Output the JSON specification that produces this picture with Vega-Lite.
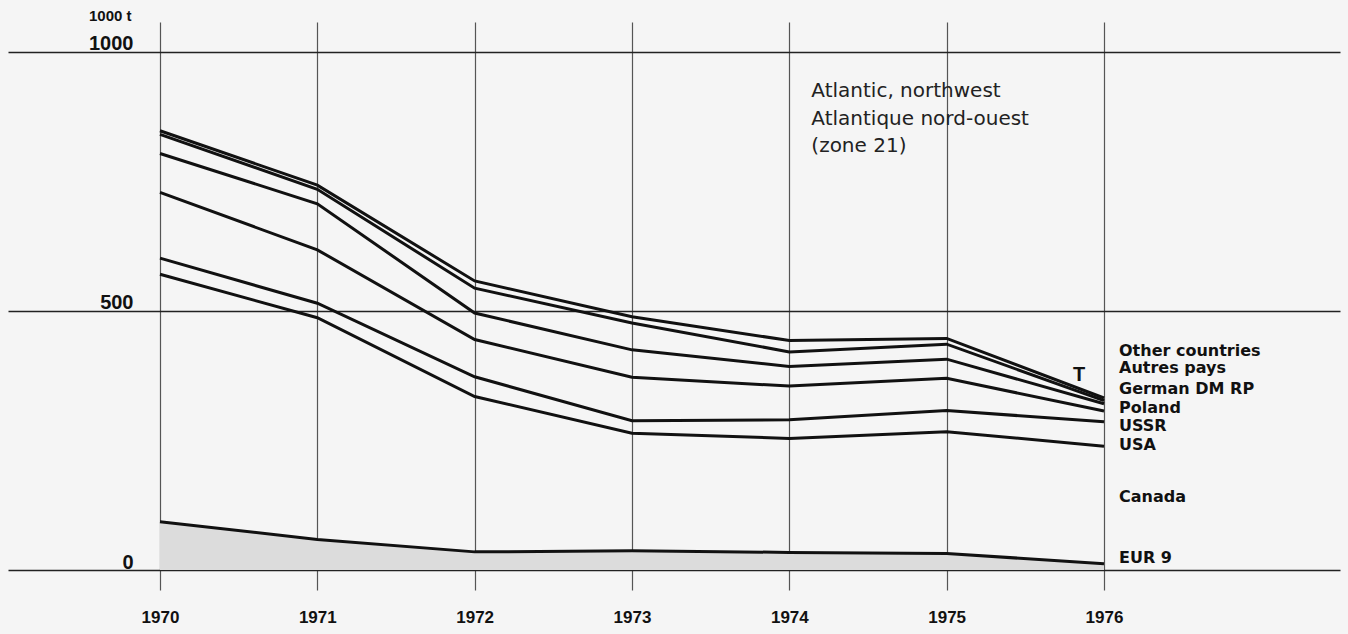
{
  "$schema": "https://vega.github.io/schema/vega-lite/v6.json",
  "width": 1332,
  "height": 568,
  "autosize": {"type": "none"},
  "padding": {"left": 8, "top": 22, "right": 8, "bottom": 44},
  "background": "#f5f5f5",
  "config": {"view": {"stroke": null}},
  "resolve": {"axis": {"x": "independent", "y": "independent"}},
  "datasets": {
    "catch": [
      {"year": 1970, "country": "EUR 9", "value": 93},
      {"year": 1971, "country": "EUR 9", "value": 59},
      {"year": 1972, "country": "EUR 9", "value": 35},
      {"year": 1973, "country": "EUR 9", "value": 37},
      {"year": 1974, "country": "EUR 9", "value": 34},
      {"year": 1975, "country": "EUR 9", "value": 32},
      {"year": 1976, "country": "EUR 9", "value": 12},
      {"year": 1970, "country": "Canada", "value": 478},
      {"year": 1971, "country": "Canada", "value": 428},
      {"year": 1972, "country": "Canada", "value": 300},
      {"year": 1973, "country": "Canada", "value": 227},
      {"year": 1974, "country": "Canada", "value": 220},
      {"year": 1975, "country": "Canada", "value": 235},
      {"year": 1976, "country": "Canada", "value": 227},
      {"year": 1970, "country": "USA", "value": 31},
      {"year": 1971, "country": "USA", "value": 28},
      {"year": 1972, "country": "USA", "value": 38},
      {"year": 1973, "country": "USA", "value": 24},
      {"year": 1974, "country": "USA", "value": 36},
      {"year": 1975, "country": "USA", "value": 41},
      {"year": 1976, "country": "USA", "value": 47},
      {"year": 1970, "country": "USSR", "value": 127},
      {"year": 1971, "country": "USSR", "value": 103},
      {"year": 1972, "country": "USSR", "value": 72},
      {"year": 1973, "country": "USSR", "value": 84},
      {"year": 1974, "country": "USSR", "value": 65},
      {"year": 1975, "country": "USSR", "value": 62},
      {"year": 1976, "country": "USSR", "value": 21},
      {"year": 1970, "country": "Poland", "value": 75},
      {"year": 1971, "country": "Poland", "value": 89},
      {"year": 1972, "country": "Poland", "value": 51},
      {"year": 1973, "country": "Poland", "value": 53},
      {"year": 1974, "country": "Poland", "value": 38},
      {"year": 1975, "country": "Poland", "value": 37},
      {"year": 1976, "country": "Poland", "value": 14},
      {"year": 1970, "country": "German DM RP", "value": 37},
      {"year": 1971, "country": "German DM RP", "value": 28},
      {"year": 1972, "country": "German DM RP", "value": 48},
      {"year": 1973, "country": "German DM RP", "value": 52},
      {"year": 1974, "country": "German DM RP", "value": 28},
      {"year": 1975, "country": "German DM RP", "value": 29},
      {"year": 1976, "country": "German DM RP", "value": 6},
      {"year": 1970, "country": "Other countries", "value": 7},
      {"year": 1971, "country": "Other countries", "value": 8},
      {"year": 1972, "country": "Other countries", "value": 14},
      {"year": 1973, "country": "Other countries", "value": 12},
      {"year": 1974, "country": "Other countries", "value": 22},
      {"year": 1975, "country": "Other countries", "value": 11},
      {"year": 1976, "country": "Other countries", "value": 5}
    ]
  },
  "layer": [
    {
      "data": {"name": "catch"},
      "transform": [
        {"calculate": "indexof(['EUR 9','Canada','USA','USSR','Poland','German DM RP','Other countries'], datum.country)", "as": "rank"},
        {"stack": "value", "groupby": ["year"], "sort": [{"field": "rank", "order": "ascending"}], "as": ["y0", "y1"]},
        {"filter": "datum.country === 'EUR 9'"}
      ],
      "mark": {"type": "area", "color": "#dcdcdc", "opacity": 1},
      "encoding": {
        "x": {
          "field": "year", "type": "quantitative",
          "scale": {"domain": [1969.034, 1977.5], "nice": false, "zero": false},
          "axis": {
            "values": [1970, 1971, 1972, 1973, 1974, 1975, 1976],
            "format": "d", "title": null,
            "grid": true, "gridColor": "#555555", "gridWidth": 1.2,
            "domain": false, "ticks": false, "tickSize": 0,
            "labelPadding": 19, "labelFont": "Liberation Sans", "labelFontWeight": "bold",
            "labelFontSize": 17, "labelColor": "#111111", "labelFlush": false
          }
        },
        "y": {
          "field": "y1", "type": "quantitative",
          "scale": {"domain": [-38.6, 1057.9], "nice": false, "zero": false},
          "axis": {
            "values": [0, 500, 1000], "format": "d",
            "grid": true, "gridColor": "#222222", "gridWidth": 1.5,
            "domain": false, "ticks": false, "tickSize": 0,
            "labelPadding": -125, "labelAlign": "right", "labelBaseline": "alphabetic", "labelOffset": -2,
            "labelFont": "Liberation Sans", "labelFontWeight": "bold", "labelFontSize": 20, "labelColor": "#111111",
            "title": "1000 t", "titleAngle": 0, "titleX": 123, "titleY": -2,
            "titleAlign": "right", "titleBaseline": "alphabetic",
            "titleFont": "Liberation Sans", "titleFontSize": 15, "titleFontWeight": "bold", "titleColor": "#111111"
          }
        },
        "y2": {"field": "y0"}
      }
    },
    {
      "data": {"name": "catch"},
      "transform": [
        {"calculate": "indexof(['EUR 9','Canada','USA','USSR','Poland','German DM RP','Other countries'], datum.country)", "as": "rank"},
        {"stack": "value", "groupby": ["year"], "sort": [{"field": "rank", "order": "ascending"}], "as": ["y0", "y1"]}
      ],
      "mark": {"type": "line", "color": "#111111", "strokeWidth": 3},
      "encoding": {
        "x": {"field": "year", "type": "quantitative", "scale": {"domain": [1969.034, 1977.5], "nice": false, "zero": false}, "axis": null},
        "y": {"field": "y1", "type": "quantitative", "scale": {"domain": [-38.6, 1057.9], "nice": false, "zero": false}, "axis": null},
        "detail": {"field": "country"}
      }
    },
    {
      "data": {"values": [{}]},
      "mark": {"type": "text", "align": "left", "baseline": "alphabetic", "dx": 22, "font": "DejaVu Sans", "fontSize": 20, "lineHeight": 27.5, "color": "#222222",
        "text": ["Atlantic, northwest", "Atlantique nord-ouest", "(zone 21)"]},
      "encoding": {
        "x": {"datum": 1974, "type": "quantitative", "scale": {"domain": [1969.034, 1977.5], "nice": false, "zero": false}, "axis": null},
        "y": {"datum": 912.5, "type": "quantitative", "scale": {"domain": [-38.6, 1057.9], "nice": false, "zero": false}, "axis": null}
      }
    },
    {
      "data": {"values": [{}]},
      "mark": {"type": "text", "align": "center", "baseline": "middle", "dx": -25, "font": "Liberation Sans", "fontWeight": "bold", "fontSize": 20, "color": "#111111", "text": "T"},
      "encoding": {
        "x": {"datum": 1976, "type": "quantitative", "scale": {"domain": [1969.034, 1977.5], "nice": false, "zero": false}, "axis": null},
        "y": {"datum": 377, "type": "quantitative", "scale": {"domain": [-38.6, 1057.9], "nice": false, "zero": false}, "axis": null}
      }
    },
    {
      "data": {"values": [{}]},
      "mark": {"type": "text", "align": "left", "baseline": "middle", "dx": 15, "font": "DejaVu Sans", "fontWeight": "bold", "fontSize": 16, "color": "#111111", "text": "Other countries"},
      "encoding": {
        "x": {"datum": 1976, "type": "quantitative", "scale": {"domain": [1969.034, 1977.5], "nice": false, "zero": false}, "axis": null},
        "y": {"datum": 422, "type": "quantitative", "scale": {"domain": [-38.6, 1057.9], "nice": false, "zero": false}, "axis": null}
      }
    },
    {
      "data": {"values": [{}]},
      "mark": {"type": "text", "align": "left", "baseline": "middle", "dx": 15, "font": "DejaVu Sans", "fontWeight": "bold", "fontSize": 16, "color": "#111111", "text": "Autres pays"},
      "encoding": {
        "x": {"datum": 1976, "type": "quantitative", "scale": {"domain": [1969.034, 1977.5], "nice": false, "zero": false}, "axis": null},
        "y": {"datum": 390, "type": "quantitative", "scale": {"domain": [-38.6, 1057.9], "nice": false, "zero": false}, "axis": null}
      }
    },
    {
      "data": {"values": [{}]},
      "mark": {"type": "text", "align": "left", "baseline": "middle", "dx": 15, "font": "DejaVu Sans", "fontWeight": "bold", "fontSize": 16, "color": "#111111", "text": "German DM RP"},
      "encoding": {
        "x": {"datum": 1976, "type": "quantitative", "scale": {"domain": [1969.034, 1977.5], "nice": false, "zero": false}, "axis": null},
        "y": {"datum": 349, "type": "quantitative", "scale": {"domain": [-38.6, 1057.9], "nice": false, "zero": false}, "axis": null}
      }
    },
    {
      "data": {"values": [{}]},
      "mark": {"type": "text", "align": "left", "baseline": "middle", "dx": 15, "font": "DejaVu Sans", "fontWeight": "bold", "fontSize": 16, "color": "#111111", "text": "Poland"},
      "encoding": {
        "x": {"datum": 1976, "type": "quantitative", "scale": {"domain": [1969.034, 1977.5], "nice": false, "zero": false}, "axis": null},
        "y": {"datum": 313, "type": "quantitative", "scale": {"domain": [-38.6, 1057.9], "nice": false, "zero": false}, "axis": null}
      }
    },
    {
      "data": {"values": [{}]},
      "mark": {"type": "text", "align": "left", "baseline": "middle", "dx": 15, "font": "DejaVu Sans", "fontWeight": "bold", "fontSize": 16, "color": "#111111", "text": "USSR"},
      "encoding": {
        "x": {"datum": 1976, "type": "quantitative", "scale": {"domain": [1969.034, 1977.5], "nice": false, "zero": false}, "axis": null},
        "y": {"datum": 278, "type": "quantitative", "scale": {"domain": [-38.6, 1057.9], "nice": false, "zero": false}, "axis": null}
      }
    },
    {
      "data": {"values": [{}]},
      "mark": {"type": "text", "align": "left", "baseline": "middle", "dx": 15, "font": "DejaVu Sans", "fontWeight": "bold", "fontSize": 16, "color": "#111111", "text": "USA"},
      "encoding": {
        "x": {"datum": 1976, "type": "quantitative", "scale": {"domain": [1969.034, 1977.5], "nice": false, "zero": false}, "axis": null},
        "y": {"datum": 241, "type": "quantitative", "scale": {"domain": [-38.6, 1057.9], "nice": false, "zero": false}, "axis": null}
      }
    },
    {
      "data": {"values": [{}]},
      "mark": {"type": "text", "align": "left", "baseline": "middle", "dx": 15, "font": "DejaVu Sans", "fontWeight": "bold", "fontSize": 16, "color": "#111111", "text": "Canada"},
      "encoding": {
        "x": {"datum": 1976, "type": "quantitative", "scale": {"domain": [1969.034, 1977.5], "nice": false, "zero": false}, "axis": null},
        "y": {"datum": 141, "type": "quantitative", "scale": {"domain": [-38.6, 1057.9], "nice": false, "zero": false}, "axis": null}
      }
    },
    {
      "data": {"values": [{}]},
      "mark": {"type": "text", "align": "left", "baseline": "middle", "dx": 15, "font": "DejaVu Sans", "fontWeight": "bold", "fontSize": 16, "color": "#111111", "text": "EUR 9"},
      "encoding": {
        "x": {"datum": 1976, "type": "quantitative", "scale": {"domain": [1969.034, 1977.5], "nice": false, "zero": false}, "axis": null},
        "y": {"datum": 23, "type": "quantitative", "scale": {"domain": [-38.6, 1057.9], "nice": false, "zero": false}, "axis": null}
      }
    }
  ]
}
